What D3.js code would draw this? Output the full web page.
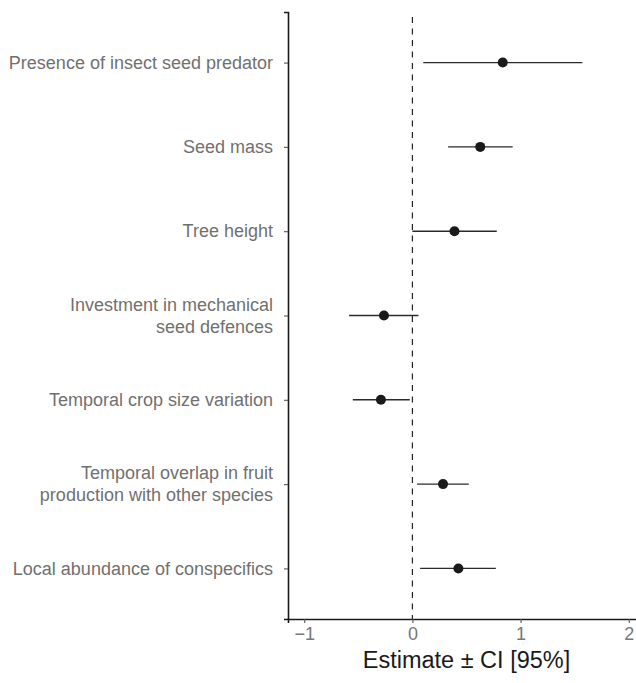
<!DOCTYPE html>
<html lang="en">
<head>
    <meta charset="UTF-8">
    <title>Forest plot</title>
    <script src="https://cdn.jsdelivr.net/npm/d3@7"></script>
    <style>
        body { margin: 0; background: #fff; }
        text { font-family: "Liberation Sans", Arial, sans-serif; }
    </style>
</head>
<body>
<svg></svg>
<script>
    var width = 636;
    var height = 683;

    // predictors, top to bottom
    var labels = [
        ["Presence of insect seed predator"],
        ["Seed mass"],
        ["Tree height"],
        ["Investment in mechanical", "seed defences"],
        ["Temporal crop size variation"],
        ["Temporal overlap in fruit", "production with other species"],
        ["Local abundance of conspecifics"]
    ];
    var estimate = [0.835, 0.627, 0.389, -0.263, -0.291, 0.283, 0.425];
    var ciLow    = [0.100, 0.330, 0.000, -0.585, -0.551, 0.043, 0.071];
    var ciHigh   = [1.571, 0.927, 0.780, 0.056, -0.024, 0.521, 0.771];
    var xTicks = [-1, 0, 1, 2];

    var svg = d3.select('svg')
                .attr('width', width)
                .attr('height', height);

    var plotLeft = 288, plotTop = 12, plotBottom = 619;

    var x = d3.scaleLinear()
              .domain([-1.15, 2.15])
              .range([plotLeft, 645]);

    var y = d3.scalePoint()
              .domain(d3.range(labels.length))
              .range([plotTop, plotBottom])
              .padding(0.6);

    // zero reference line
    svg.append('line')
       .attr('x1', x(0)).attr('x2', x(0))
       .attr('y1', plotTop + 5).attr('y2', plotBottom)
       .attr('stroke', '#222')
       .attr('stroke-width', 1.2)
       .attr('stroke-dasharray', '6,5.5');

    // x axis
    var xAxis = svg.append('g')
       .attr('transform', 'translate(0,' + plotBottom + ')')
       .call(d3.axisBottom(x).tickValues(xTicks).tickSize(4).tickPadding(4)
               .tickFormat(function(d){ return d < 0 ? '\u2212' + Math.abs(d) : d; }));
    xAxis.select('.domain').attr('stroke', '#1a1a1a').attr('stroke-width', 1.6);
    xAxis.selectAll('.tick line').attr('stroke', '#555').attr('stroke-width', 1.1);
    xAxis.selectAll('.tick text')
         .attr('fill', '#777')
         .style('font-size', '18px');

    // y axis
    var yAxis = svg.append('g')
       .attr('transform', 'translate(' + plotLeft + ',0)')
       .call(d3.axisLeft(y).tickSize(4).tickFormat(''));
    yAxis.select('.domain').attr('stroke', '#1a1a1a').attr('stroke-width', 1.6);
    yAxis.selectAll('.tick line').attr('stroke', '#555').attr('stroke-width', 1.1);

    // category labels (some on two lines)
    var lab = svg.append('g').selectAll('text')
       .data(labels)
       .enter()
       .append('text')
       .attr('text-anchor', 'end')
       .attr('fill', '#707070')
       .style('font-size', '18px');
    lab.each(function(lines, i){
        var t = d3.select(this);
        var lh = 22;
        var y0 = y(i) - (lines.length - 1) * lh / 2;
        lines.forEach(function(s, k){
            t.append('tspan')
             .attr('x', 273)
             .attr('y', y0 + k * lh)
             .attr('dy', '0.35em')
             .text(s);
        });
    });

    // confidence intervals
    svg.append('g').selectAll('line')
       .data(estimate)
       .enter()
       .append('line')
       .attr('x1', function(d, i){ return x(ciLow[i]); })
       .attr('x2', function(d, i){ return x(ciHigh[i]); })
       .attr('y1', function(d, i){ return y(i); })
       .attr('y2', function(d, i){ return y(i); })
       .attr('stroke', '#2a2a2a')
       .attr('stroke-width', 1.4);

    // estimates
    svg.append('g').selectAll('circle')
       .data(estimate)
       .enter()
       .append('circle')
       .attr('cx', function(d){ return x(d); })
       .attr('cy', function(d, i){ return y(i); })
       .attr('r', 5)
       .attr('fill', '#1a1a1a');

    // axis title
    svg.append('text')
       .attr('x', x(0.5))
       .attr('y', 668)
       .attr('text-anchor', 'middle')
       .attr('fill', '#1a1a1a')
       .style('font-size', '23.5px')
       .text('Estimate \u00b1 CI [95%]');
</script>
</body>
</html>
